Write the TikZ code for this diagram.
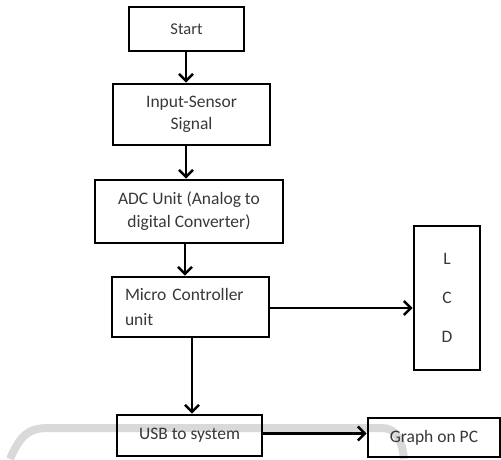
\documentclass[tikz,border=0pt]{standalone}
\usepackage{fontspec}
\setmainfont{Carlito}
\usetikzlibrary{arrows.meta}
\tikzset{
  x=1pt, y=-1pt,
  box/.style={draw=black, line width=2.6pt, rectangle, inner sep=0pt,
    text=black!78, font=\fontsize{17.5}{23}\selectfont, align=center},
  arr/.style={line width=2.2pt, -{Straight Barb[length=7pt,width=14pt,line width=2.6pt]}},
  band/.style={draw=black!15, line width=8pt}
}
\begin{document}
\begin{tikzpicture}
\useasboundingbox (0,0) rectangle (501,459);
% faint grey stroke behind the lower boxes
\draw[band] (10,459) .. controls (20,436) and (28,428) .. (48,428) -- (382,428)
  .. controls (396,428) and (402,440) .. (404,459);

\node[box, minimum width=115, minimum height=44,
      font=\fontsize{16.5}{20}\selectfont] (start) at (186.5,29) {Start};
\node[box, minimum width=157, minimum height=61,
      font=\fontsize{17.5}{22}\selectfont] (input) at (191.5,114.5) {Input-Sensor\\Signal};
\node[box, minimum width=188, minimum height=63] (adc) at (189,211.5) {ADC Unit (Analog to\\digital Converter)};
\node[box, minimum width=157, minimum height=60, text width=131, align=left,
      inner xsep=13pt, font=\fontsize{17.5}{25}\selectfont] (mcu) at (190.5,307) {Micro Controller\\unit};
\node[box, minimum width=66, minimum height=144,
      font=\fontsize{17.5}{39}\selectfont] (lcd) at (447,298) {L\\C\\D};
\node[box, minimum width=145, minimum height=41] (usb) at (189.5,435.5) {USB to system};
\node[box, minimum width=132, minimum height=39] (graph) at (434,437.5) {Graph on PC};

\coordinate (c1) at (186,0);
\coordinate (c3) at (185,0);
\coordinate (c4) at (192,0);
\draw[arr] (start.south -| c1) -- (input.north -| c1);
\draw[arr] (input.south -| c1) -- (adc.north -| c1);
\draw[arr] (adc.south -| c3) -- (mcu.north -| c3);
\draw[arr] (mcu.south -| c4) -- (usb.north -| c4);
\draw[arr] (mcu.east) ++(0,1) coordinate (m) (m) -- (lcd.west |- m);
\draw[arr] (usb.east) ++(0,-2) coordinate (u) (u) -- (graph.west |- u);
\end{tikzpicture}
\end{document}
